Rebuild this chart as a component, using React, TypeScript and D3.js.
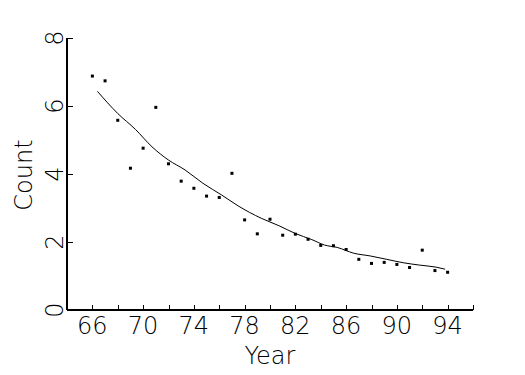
import React, { useEffect, useRef } from "react";
import * as d3 from "d3";

// observed counts per year
const years = [66, 67, 68, 69, 70, 71, 72, 73, 74, 75, 76, 77, 78, 79, 80, 81, 82, 83, 84, 85, 86, 87, 88, 89, 90, 91, 92, 93, 94];
const counts = [6.88, 6.74, 5.58, 4.17, 4.76, 5.96, 4.3, 3.79, 3.58, 3.35, 3.31, 4.02, 2.65, 2.24, 2.67, 2.2, 2.23, 2.08, 1.9, 1.89, 1.78, 1.49, 1.37, 1.4, 1.34, 1.25, 1.76, 1.16, 1.11];

// fitted curve
const fitYears = [66.4, 68.0, 69.4, 70.7, 72.0, 73.3, 74.7, 76.2, 77.5, 79.3, 80.7, 82.0, 83.3, 84.3, 85.3, 86.6, 87.9, 89.2, 90.5, 91.8, 93.1, 93.8];
const fitCounts = [6.43, 5.78, 5.31, 4.8, 4.41, 4.12, 3.73, 3.38, 3.06, 2.7, 2.48, 2.25, 2.07, 1.91, 1.84, 1.67, 1.59, 1.49, 1.39, 1.32, 1.26, 1.2];

const xTicks = [66, 68, 70, 72, 74, 76, 78, 80, 82, 84, 86, 88, 90, 92, 94, 96];
const xLabels = [66, 70, 74, 78, 82, 86, 90, 94];
const yTicks = [0, 2, 4, 6, 8];

const FONT = "'DejaVu Sans', sans-serif";

export default function App() {
  const svgRef = useRef<SVGSVGElement>(null);

  useEffect(() => {
    const svg = d3.select(svgRef.current);
    svg.selectAll("*").remove();

    const x = d3.scaleLinear().domain([64, 96]).range([67, 473]);
    const y = d3.scaleLinear().domain([0, 8]).range([310, 38]);

    const g = svg.append("g");

    // axes lines
    g.append("line").attr("x1", x(64)).attr("x2", x(96)).attr("y1", y(0)).attr("y2", y(0))
      .attr("stroke", "#000").attr("stroke-width", 2);
    g.append("line").attr("x1", x(64)).attr("x2", x(64)).attr("y1", y(0)).attr("y2", y(8))
      .attr("stroke", "#000").attr("stroke-width", 2);

    // x ticks (pointing up)
    g.selectAll(".xt").data(xTicks).enter().append("line")
      .attr("x1", (d) => Math.round(x(d)) + 0.5).attr("x2", (d) => Math.round(x(d)) + 0.5)
      .attr("y1", y(0)).attr("y2", y(0) - 5)
      .attr("stroke", "#000").attr("stroke-width", 1);

    // y ticks (pointing right)
    g.selectAll(".yt").data(yTicks).enter().append("line")
      .attr("x1", x(64)).attr("x2", x(64) + 6)
      .attr("y1", (d) => Math.round(y(d)) + 0.5).attr("y2", (d) => Math.round(y(d)) + 0.5)
      .attr("stroke", "#000").attr("stroke-width", 1);

    // x tick labels
    g.selectAll(".xl").data(xLabels).enter().append("text")
      .attr("x", (d) => x(d)).attr("y", 334)
      .attr("text-anchor", "middle")
      .attr("font-family", FONT).attr("font-weight", 200).attr("font-size", 24)
      .text((d) => d);

    // y tick labels (rotated)
    g.selectAll(".yl").data(yTicks).enter().append("text")
      .attr("transform", (d) => `translate(63,${y(d)}) rotate(-90)`)
      .attr("text-anchor", "middle")
      .attr("font-family", FONT).attr("font-weight", 200).attr("font-size", 24)
      .text((d) => d);

    // axis titles
    g.append("text").attr("x", 270).attr("y", 364).attr("text-anchor", "middle")
      .attr("font-family", FONT).attr("font-weight", 200).attr("font-size", 24)
      .text("Year");
    g.append("text").attr("transform", "translate(32,175) rotate(-90)").attr("text-anchor", "middle")
      .attr("font-family", FONT).attr("font-weight", 200).attr("font-size", 24)
      .text("Count");

    // fitted line
    const fit = fitYears.map((d, i) => [d, fitCounts[i]] as [number, number]);
    const line = d3.line<[number, number]>().x((d) => x(d[0])).y((d) => y(d[1])).curve(d3.curveMonotoneX);
    g.append("path").attr("d", line(fit)).attr("fill", "none").attr("stroke", "#000").attr("stroke-width", 1);

    // points
    g.selectAll(".pt").data(years).enter().append("rect")
      .attr("x", (d) => x(d) - 1.5).attr("y", (d, i) => y(counts[i]) - 1.5)
      .attr("width", 3).attr("height", 3).attr("fill", "#000");
  }, []);

  return (
    <svg ref={svgRef} width={525} height={375}
      style={{ position: "absolute", left: 0, top: 0, background: "#fff" }} />
  );
}
